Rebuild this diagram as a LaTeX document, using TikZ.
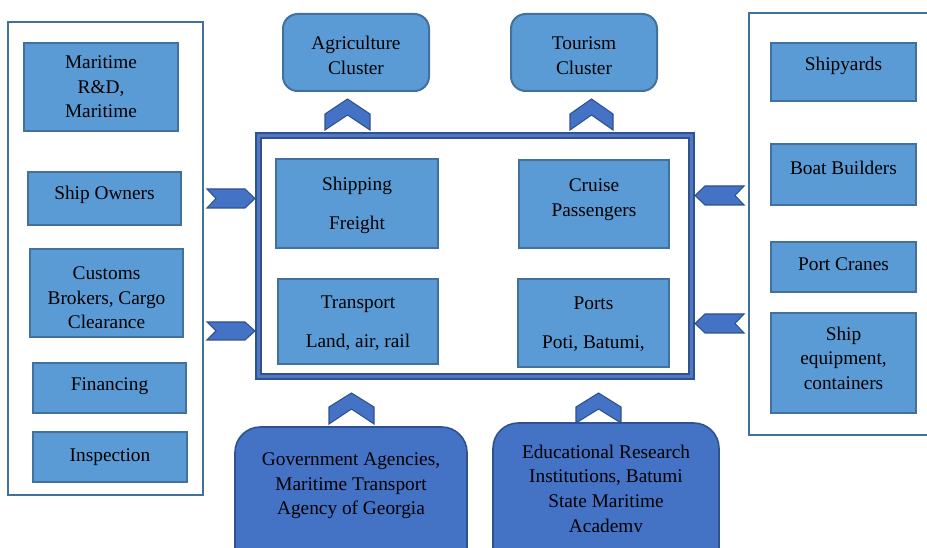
\documentclass[tikz,border=0pt]{standalone}
\usepackage{fontspec}
\setmainfont{Liberation Serif}
\usetikzlibrary{fit}

\definecolor{boxfill}{RGB}{91,155,213}
\definecolor{boxline}{RGB}{65,113,156}
\definecolor{darkfill}{RGB}{68,114,196}
\definecolor{darkline}{RGB}{47,82,143}
\definecolor{midblue}{RGB}{80,120,195}

\tikzset{
  txt/.style={align=center, text=black, text depth=0pt, font=\fontsize{14.5}{18.4}\selectfont},
  lbox/.style={txt, draw=boxline, fill=boxfill, line width=1.5pt, inner sep=0pt},
  sz/.style 2 args={minimum width=#1*0.75pt, minimum height=#2*0.75pt},
  cluster/.style={lbox, rounded corners=11pt},
  agency/.style={draw=darkline, fill=darkfill, line width=1.2pt, inner sep=0pt, rounded corners=19pt},
  group/.style={draw=boxline, line width=1.3pt, inner sep=0pt},
  core/.style={draw=darkline, double=midblue, double distance=2.25pt, line width=1.5pt, inner sep=0pt},
  chev/.style={draw=darkline, fill=darkfill, line width=0.8pt},
  lift/.style={text depth=#1},
  sink/.style={text height=#1}
}

\begin{document}
\begin{tikzpicture}[x=0.75pt,y=-0.75pt]
  \useasboundingbox (0,0) rectangle (927,548);

  % Outer groups
  \node[group, fit={(8,22) (203,495)}] (supply) {};
  \node[group, fit={(749,13) (960,435)}] (makers) {};
  \node[core, fit={(258.5,135.5) (691.5,376.5)}] (core) {};

  % Left group
  \node[lbox, sz={154}{88}] (rnd) at (101,87) {Maritime\\R\&D,\\Maritime};
  \node[lbox, sz={153}{53}, lift=8pt] (owners) at (104.5,198.5) {Ship Owners};
  \node[lbox, sz={153}{88}, sink=53.5pt] (customs) at (106.5,293) {Customs\\Brokers, Cargo\\Clearance};
  \node[lbox, sz={153}{50}, lift=6pt] (finance) at (109.5,388) {Financing};
  \node[lbox, sz={154}{50}, lift=3pt] (inspect) at (110,457) {Inspection};

  % Right group
  \node[lbox, sz={145}{58}, lift=12pt] (yards) at (843.5,72) {Shipyards};
  \node[lbox, sz={145}{61}, lift=10.5pt] (boats) at (843.5,174.5) {Boat Builders};
  \node[lbox, sz={145}{50}, lift=4.5pt] (cranes) at (843.5,267) {Port Cranes};
  \node[lbox, sz={145}{100}, lift=7.5pt] (equip) at (843.5,363) {Ship\\equipment,\\containers};

  % Core cluster
  \node[lbox, sz={162}{89}] (shipping) at (357,203.5) {Shipping\\[10.8pt]Freight};
  \node[lbox, sz={150}{88}, lift=9.75pt] (cruise) at (594,204) {Cruise\\Passengers};
  \node[lbox, sz={160}{85}] (transport) at (358,321.5) {Transport\\[10.8pt]Land, air, rail};
  \node[lbox, sz={151}{88}] (ports) at (593.5,323) {Ports\\[10.8pt]Poti, Batumi,};

  % Related clusters
  \node[cluster, sz={146}{77}, sink=32.8pt] (agri) at (356,52.5) {Agriculture\\Cluster};
  \node[cluster, sz={146}{77}, sink=32.8pt] (tourism) at (584,52.5) {Tourism\\Cluster};

  % Supporting institutions
  \node[agency, fit={(235,427) (467,600)}] (gov) {};
  \node[txt] (govtext) at (351,484) {Government Agencies,\\Maritime Transport\\Agency of Georgia};
  \node[agency, fit={(493,423) (719,600)}] (edu) {};
  \begin{scope}
    \clip (493,423) rectangle (719,531);
    \node[txt] (edutext) at (606,488.5) {Educational Research\\Institutions, Batumi\\State Maritime\\Academy};
  \end{scope}

  % Chevrons into the core
  \draw[chev] (207,189) -- (245,189) -- (255,198.5) -- (245,208) -- (207,208) -- (216,198.5) -- cycle;
  \draw[chev] (207,322) -- (245,322) -- (255,331) -- (245,340) -- (207,340) -- (216,331) -- cycle;
  \draw[chev] (744,186) -- (705,186) -- (695,195.5) -- (705,205) -- (744,205) -- (735,195.5) -- cycle;
  \draw[chev] (744,314) -- (705,314) -- (695,323.5) -- (705,333) -- (744,333) -- (735,323.5) -- cycle;
  \draw[chev] (329,424) -- (329,407) -- (351.5,393) -- (374,407) -- (374,424) -- (351.5,409) -- cycle;
  \draw[chev] (576,423) -- (576,407) -- (598.5,393) -- (621,407) -- (621,423) -- (598.5,409) -- cycle;

  % Chevrons out of the core
  \draw[chev] (325,130) -- (325,114) -- (347.5,99) -- (370,114) -- (370,130) -- (347.5,115) -- cycle;
  \draw[chev] (570,130) -- (570,114) -- (591.5,99) -- (613,114) -- (613,130) -- (591.5,115) -- cycle;
\end{tikzpicture}
\end{document}
